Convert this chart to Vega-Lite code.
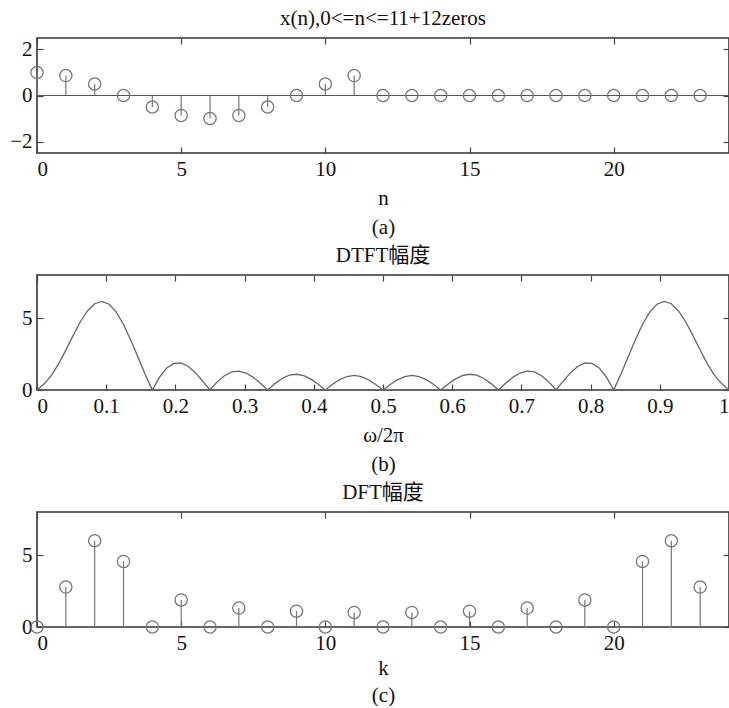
{
  "$schema": "https://vega.github.io/schema/vega-lite/v6.json",
  "padding": {"left": 8, "top": 7, "right": 0, "bottom": 0},
  "background": "white",
  "datasets": {
    "xn": [
      {"n": 0, "x": 1.0}, {"n": 1, "x": 0.866}, {"n": 2, "x": 0.5}, {"n": 3, "x": 0.0},
      {"n": 4, "x": -0.5}, {"n": 5, "x": -0.866}, {"n": 6, "x": -1.0}, {"n": 7, "x": -0.866},
      {"n": 8, "x": -0.5}, {"n": 9, "x": 0.0}, {"n": 10, "x": 0.5}, {"n": 11, "x": 0.866},
      {"n": 12, "x": 0}, {"n": 13, "x": 0}, {"n": 14, "x": 0}, {"n": 15, "x": 0},
      {"n": 16, "x": 0}, {"n": 17, "x": 0}, {"n": 18, "x": 0}, {"n": 19, "x": 0},
      {"n": 20, "x": 0}, {"n": 21, "x": 0}, {"n": 22, "x": 0}, {"n": 23, "x": 0}
    ],
    "dtft": [
      {"f": 0, "mag": 0}, {"f": 0.010417, "mag": 0.427}, {"f": 0.020833, "mag": 1.021}, {"f": 0.03125, "mag": 1.822},
      {"f": 0.041667, "mag": 2.777}, {"f": 0.052083, "mag": 3.785}, {"f": 0.0625, "mag": 4.731}, {"f": 0.072917, "mag": 5.5},
      {"f": 0.083333, "mag": 6.0}, {"f": 0.09375, "mag": 6.164}, {"f": 0.104167, "mag": 5.966}, {"f": 0.114583, "mag": 5.414},
      {"f": 0.125, "mag": 4.56}, {"f": 0.135417, "mag": 3.486}, {"f": 0.145833, "mag": 2.292}, {"f": 0.15625, "mag": 1.094},
      {"f": 0.166667, "mag": 0}, {"f": 0.177083, "mag": 0.896}, {"f": 0.1875, "mag": 1.525}, {"f": 0.197917, "mag": 1.853},
      {"f": 0.208333, "mag": 1.879}, {"f": 0.21875, "mag": 1.636}, {"f": 0.229167, "mag": 1.187}, {"f": 0.239583, "mag": 0.612},
      {"f": 0.25, "mag": 0}, {"f": 0.260417, "mag": 0.561}, {"f": 0.270833, "mag": 0.997}, {"f": 0.28125, "mag": 1.258},
      {"f": 0.291667, "mag": 1.318}, {"f": 0.302083, "mag": 1.182}, {"f": 0.3125, "mag": 0.88}, {"f": 0.322917, "mag": 0.464},
      {"f": 0.333333, "mag": 0}, {"f": 0.34375, "mag": 0.443}, {"f": 0.354167, "mag": 0.803}, {"f": 0.364583, "mag": 1.03},
      {"f": 0.375, "mag": 1.096}, {"f": 0.385417, "mag": 0.998}, {"f": 0.395833, "mag": 0.753}, {"f": 0.40625, "mag": 0.403},
      {"f": 0.416667, "mag": 0}, {"f": 0.427083, "mag": 0.395}, {"f": 0.4375, "mag": 0.723}, {"f": 0.447917, "mag": 0.938},
      {"f": 0.458333, "mag": 1.01}, {"f": 0.46875, "mag": 0.929}, {"f": 0.479167, "mag": 0.709}, {"f": 0.489583, "mag": 0.383},
      {"f": 0.5, "mag": 0},
      {"f": 0.510417, "mag": 0.383}, {"f": 0.520833, "mag": 0.709}, {"f": 0.53125, "mag": 0.929}, {"f": 0.541667, "mag": 1.01},
      {"f": 0.552083, "mag": 0.938}, {"f": 0.5625, "mag": 0.723}, {"f": 0.572917, "mag": 0.395}, {"f": 0.583333, "mag": 0},
      {"f": 0.59375, "mag": 0.403}, {"f": 0.604167, "mag": 0.753}, {"f": 0.614583, "mag": 0.998}, {"f": 0.625, "mag": 1.096},
      {"f": 0.635417, "mag": 1.03}, {"f": 0.645833, "mag": 0.803}, {"f": 0.65625, "mag": 0.443}, {"f": 0.666667, "mag": 0},
      {"f": 0.677083, "mag": 0.464}, {"f": 0.6875, "mag": 0.88}, {"f": 0.697917, "mag": 1.182}, {"f": 0.708333, "mag": 1.318},
      {"f": 0.71875, "mag": 1.258}, {"f": 0.729167, "mag": 0.997}, {"f": 0.739583, "mag": 0.561}, {"f": 0.75, "mag": 0},
      {"f": 0.760417, "mag": 0.612}, {"f": 0.770833, "mag": 1.187}, {"f": 0.78125, "mag": 1.636}, {"f": 0.791667, "mag": 1.879},
      {"f": 0.802083, "mag": 1.853}, {"f": 0.8125, "mag": 1.525}, {"f": 0.822917, "mag": 0.896}, {"f": 0.833333, "mag": 0},
      {"f": 0.84375, "mag": 1.094}, {"f": 0.854167, "mag": 2.292}, {"f": 0.864583, "mag": 3.486}, {"f": 0.875, "mag": 4.56},
      {"f": 0.885417, "mag": 5.414}, {"f": 0.895833, "mag": 5.966}, {"f": 0.90625, "mag": 6.164}, {"f": 0.916667, "mag": 6.0},
      {"f": 0.927083, "mag": 5.5}, {"f": 0.9375, "mag": 4.731}, {"f": 0.947917, "mag": 3.785}, {"f": 0.958333, "mag": 2.777},
      {"f": 0.96875, "mag": 1.822}, {"f": 0.979167, "mag": 1.021}, {"f": 0.989583, "mag": 0.427}, {"f": 1, "mag": 0}
    ],
    "dft": [
      {"k": 0, "mag": 0}, {"k": 1, "mag": 2.777}, {"k": 2, "mag": 6.0}, {"k": 3, "mag": 4.56},
      {"k": 4, "mag": 0}, {"k": 5, "mag": 1.879}, {"k": 6, "mag": 0}, {"k": 7, "mag": 1.318},
      {"k": 8, "mag": 0}, {"k": 9, "mag": 1.096}, {"k": 10, "mag": 0}, {"k": 11, "mag": 1.01},
      {"k": 12, "mag": 0}, {"k": 13, "mag": 1.01}, {"k": 14, "mag": 0}, {"k": 15, "mag": 1.096},
      {"k": 16, "mag": 0}, {"k": 17, "mag": 1.318}, {"k": 18, "mag": 0}, {"k": 19, "mag": 1.879},
      {"k": 20, "mag": 0}, {"k": 21, "mag": 4.56}, {"k": 22, "mag": 6.0}, {"k": 23, "mag": 2.777}
    ]
  },
  "vconcat": [
    {
      "width": 692, "height": 115,
      "title": {"text": "x(n),0<=n<=11+12zeros", "offset": 8},
      "data": {"name": "xn"},
      "layer": [
        {
          "mark": {"type": "rule", "color": "#777", "strokeWidth": 1.2},
          "encoding": {
            "x": {"field": "n", "type": "quantitative", "scale": {"domain": [0, 24], "nice": false, "zero": false},
                  "axis": {"values": [0, 5, 10, 15, 20], "title": ["n", "(a)"]}},
            "y": {"field": "x", "type": "quantitative", "scale": {"domain": [-2.5, 2.5], "nice": false},
                  "axis": {"values": [-2, 0, 2], "title": null}},
            "y2": {"datum": 0}
          }
        },
        {
          "mark": {"type": "rule", "color": "#555", "strokeWidth": 1.2},
          "encoding": {"y": {"datum": 0, "axis": null}}
        },
        {
          "mark": {"type": "point", "shape": "circle", "filled": false, "size": 150, "color": "#777", "strokeWidth": 1.3, "opacity": 1},
          "encoding": {
            "x": {"field": "n", "type": "quantitative", "axis": {"orient": "top", "values": [0, 5, 10, 15, 20], "labels": false, "title": null}},
            "y": {"field": "x", "type": "quantitative", "axis": {"orient": "right", "values": [-2, 0, 2], "labels": false, "title": null}}
          }
        }
      ],
      "resolve": {"axis": {"x": "independent", "y": "independent"}}
    },
    {
      "width": 692, "height": 115,
      "title": {"text": "DTFT幅度", "offset": 8},
      "data": {"name": "dtft"},
      "layer": [
        {
          "mark": {"type": "line", "color": "#666", "strokeWidth": 1.3},
          "encoding": {
            "x": {"field": "f", "type": "quantitative", "scale": {"domain": [0, 1], "nice": false, "zero": false},
                  "axis": {"values": [0, 0.1, 0.2, 0.3, 0.4, 0.5, 0.6, 0.7, 0.8, 0.9, 1], "format": "~g", "title": ["ω/2π", "(b)"]}},
            "y": {"field": "mag", "type": "quantitative", "scale": {"domain": [0, 8], "nice": false},
                  "axis": {"values": [0, 5], "title": null}}
          }
        },
        {
          "mark": {"type": "line", "opacity": 0},
          "encoding": {
            "x": {"field": "f", "type": "quantitative", "axis": {"orient": "top", "values": [0, 0.1, 0.2, 0.3, 0.4, 0.5, 0.6, 0.7, 0.8, 0.9, 1], "labels": false, "title": null}},
            "y": {"field": "mag", "type": "quantitative", "axis": {"orient": "right", "values": [0, 5], "labels": false, "title": null}}
          }
        }
      ],
      "resolve": {"axis": {"x": "independent", "y": "independent"}}
    },
    {
      "width": 692, "height": 115,
      "title": {"text": "DFT幅度", "offset": 8},
      "data": {"name": "dft"},
      "layer": [
        {
          "mark": {"type": "rule", "color": "#777", "strokeWidth": 1.2},
          "encoding": {
            "x": {"field": "k", "type": "quantitative", "scale": {"domain": [0, 24], "nice": false, "zero": false},
                  "axis": {"values": [0, 5, 10, 15, 20], "title": ["k", "(c)"], "titlePadding": 4, "titleLineHeight": 27}},
            "y": {"field": "mag", "type": "quantitative", "scale": {"domain": [0, 8], "nice": false},
                  "axis": {"values": [0, 5], "title": null}},
            "y2": {"datum": 0}
          }
        },
        {
          "mark": {"type": "point", "shape": "circle", "filled": false, "size": 150, "color": "#777", "strokeWidth": 1.3, "opacity": 1},
          "encoding": {
            "x": {"field": "k", "type": "quantitative", "axis": {"orient": "top", "values": [0, 5, 10, 15, 20], "labels": false, "title": null}},
            "y": {"field": "mag", "type": "quantitative", "axis": {"orient": "right", "values": [0, 5], "labels": false, "title": null}}
          }
        }
      ],
      "resolve": {"axis": {"x": "independent", "y": "independent"}}
    }
  ],
  "spacing": 6,
  "config": {
    "font": "Liberation Serif",
    "view": {"stroke": "#333", "strokeWidth": 1.6},
    "axis": {
      "domain": false, "grid": false,
      "tickSize": -6, "tickColor": "#444", "tickWidth": 1.2,
      "labelFont": "Liberation Serif", "labelFontSize": 21, "labelColor": "#111", "labelPadding": 11,
      "titleFont": "Liberation Serif", "titleFontSize": 21, "titleFontWeight": "normal", "titleColor": "#111",
      "titleLineHeight": 29, "titlePadding": 8
    },
    "title": {"font": "Liberation Serif, Noto Sans CJK SC", "fontSize": 21, "fontWeight": "normal", "color": "#111"}
  }
}
